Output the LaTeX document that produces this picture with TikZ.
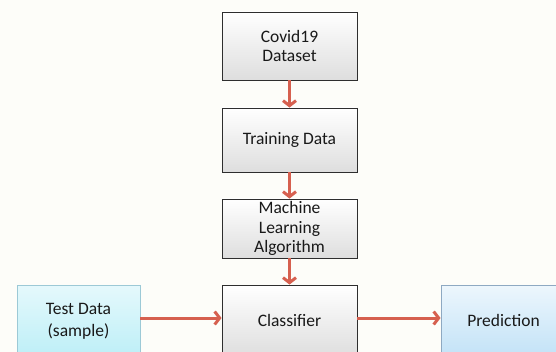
\documentclass[tikz,border=0pt]{standalone}
\usepackage{fontspec}
\setmainfont{Carlito}
\usetikzlibrary{arrows.meta,shadows}
\definecolor{arrowred}{HTML}{D6604F}
\definecolor{bgcol}{HTML}{FDFDF9}
\definecolor{boxline}{HTML}{2E2E2E}
\definecolor{cyanbot}{HTML}{BDEFF7}
\definecolor{cyanline}{HTML}{9CC9D6}
\definecolor{bluebot}{HTML}{C2E2F7}
\definecolor{blueline}{HTML}{8EA9C2}
\tikzset{
  graybox/.style={draw=boxline, line width=0.9pt, top color=white, bottom color=black!13,
    align=center, inner sep=0pt, text=black!90,
    font=\fontsize{17.5}{19.5}\selectfont,
    drop shadow={shadow xshift=1.2pt, shadow yshift=-1.2pt, opacity=0.25}},
  testbox/.style={draw=cyanline, line width=0.9pt, top color=white!60!cyanbot, bottom color=cyanbot,
    align=center, inner sep=0pt, text=black!90, font=\fontsize{17.5}{22}\selectfont},
  predbox/.style={draw=blueline, line width=0.9pt, top color=white!70!bluebot, bottom color=bluebot,
    align=center, inner sep=0pt, text=black!90, font=\fontsize{17.5}{19.5}\selectfont},
  flow/.style={draw=arrowred, line width=3pt, -{Straight Barb[length=5pt,width=13pt,line width=3pt]}}
}
\begin{document}
\begin{tikzpicture}[x=1pt,y=-1pt]
\useasboundingbox (0,0) rectangle (556,352);
\fill[bgcol] (0,0) rectangle (556,352);
\clip (0,0) rectangle (556,352);
\node[graybox, minimum width=135pt, minimum height=68pt] (covid) at (289.5,46) {Covid19\\Dataset};
\node[graybox, minimum width=135pt, minimum height=64pt] (train) at (289.5,140) {Training Data};
\node[graybox, minimum width=135pt, minimum height=59pt] (ml) at (289.5,228.5) {Machine\\Learning\\Algorithm};
\node[graybox, minimum width=135pt, minimum height=72pt] (clf) at (289.5,321) {\raisebox{2pt}{Classifier}};
\node[testbox, minimum width=123pt, minimum height=72pt] (test) at (78.5,321) {\raisebox{2pt}{\begin{tabular}{@{}c@{}}Test Data\\(sample)\end{tabular}}};
\node[predbox, minimum width=125pt, minimum height=72pt] (pred) at (503.5,321) {\raisebox{2pt}{Prediction}};
\draw[flow] (covid.south) -- (train.north);
\draw[flow] (train.south) -- (ml.north);
\draw[flow] (ml.south) -- (clf.north);
\draw[flow] (test.east |- 0,318) -- (clf.west |- 0,318);
\draw[flow] (clf.east |- 0,318) -- (pred.west |- 0,318);
\end{tikzpicture}
\end{document}
